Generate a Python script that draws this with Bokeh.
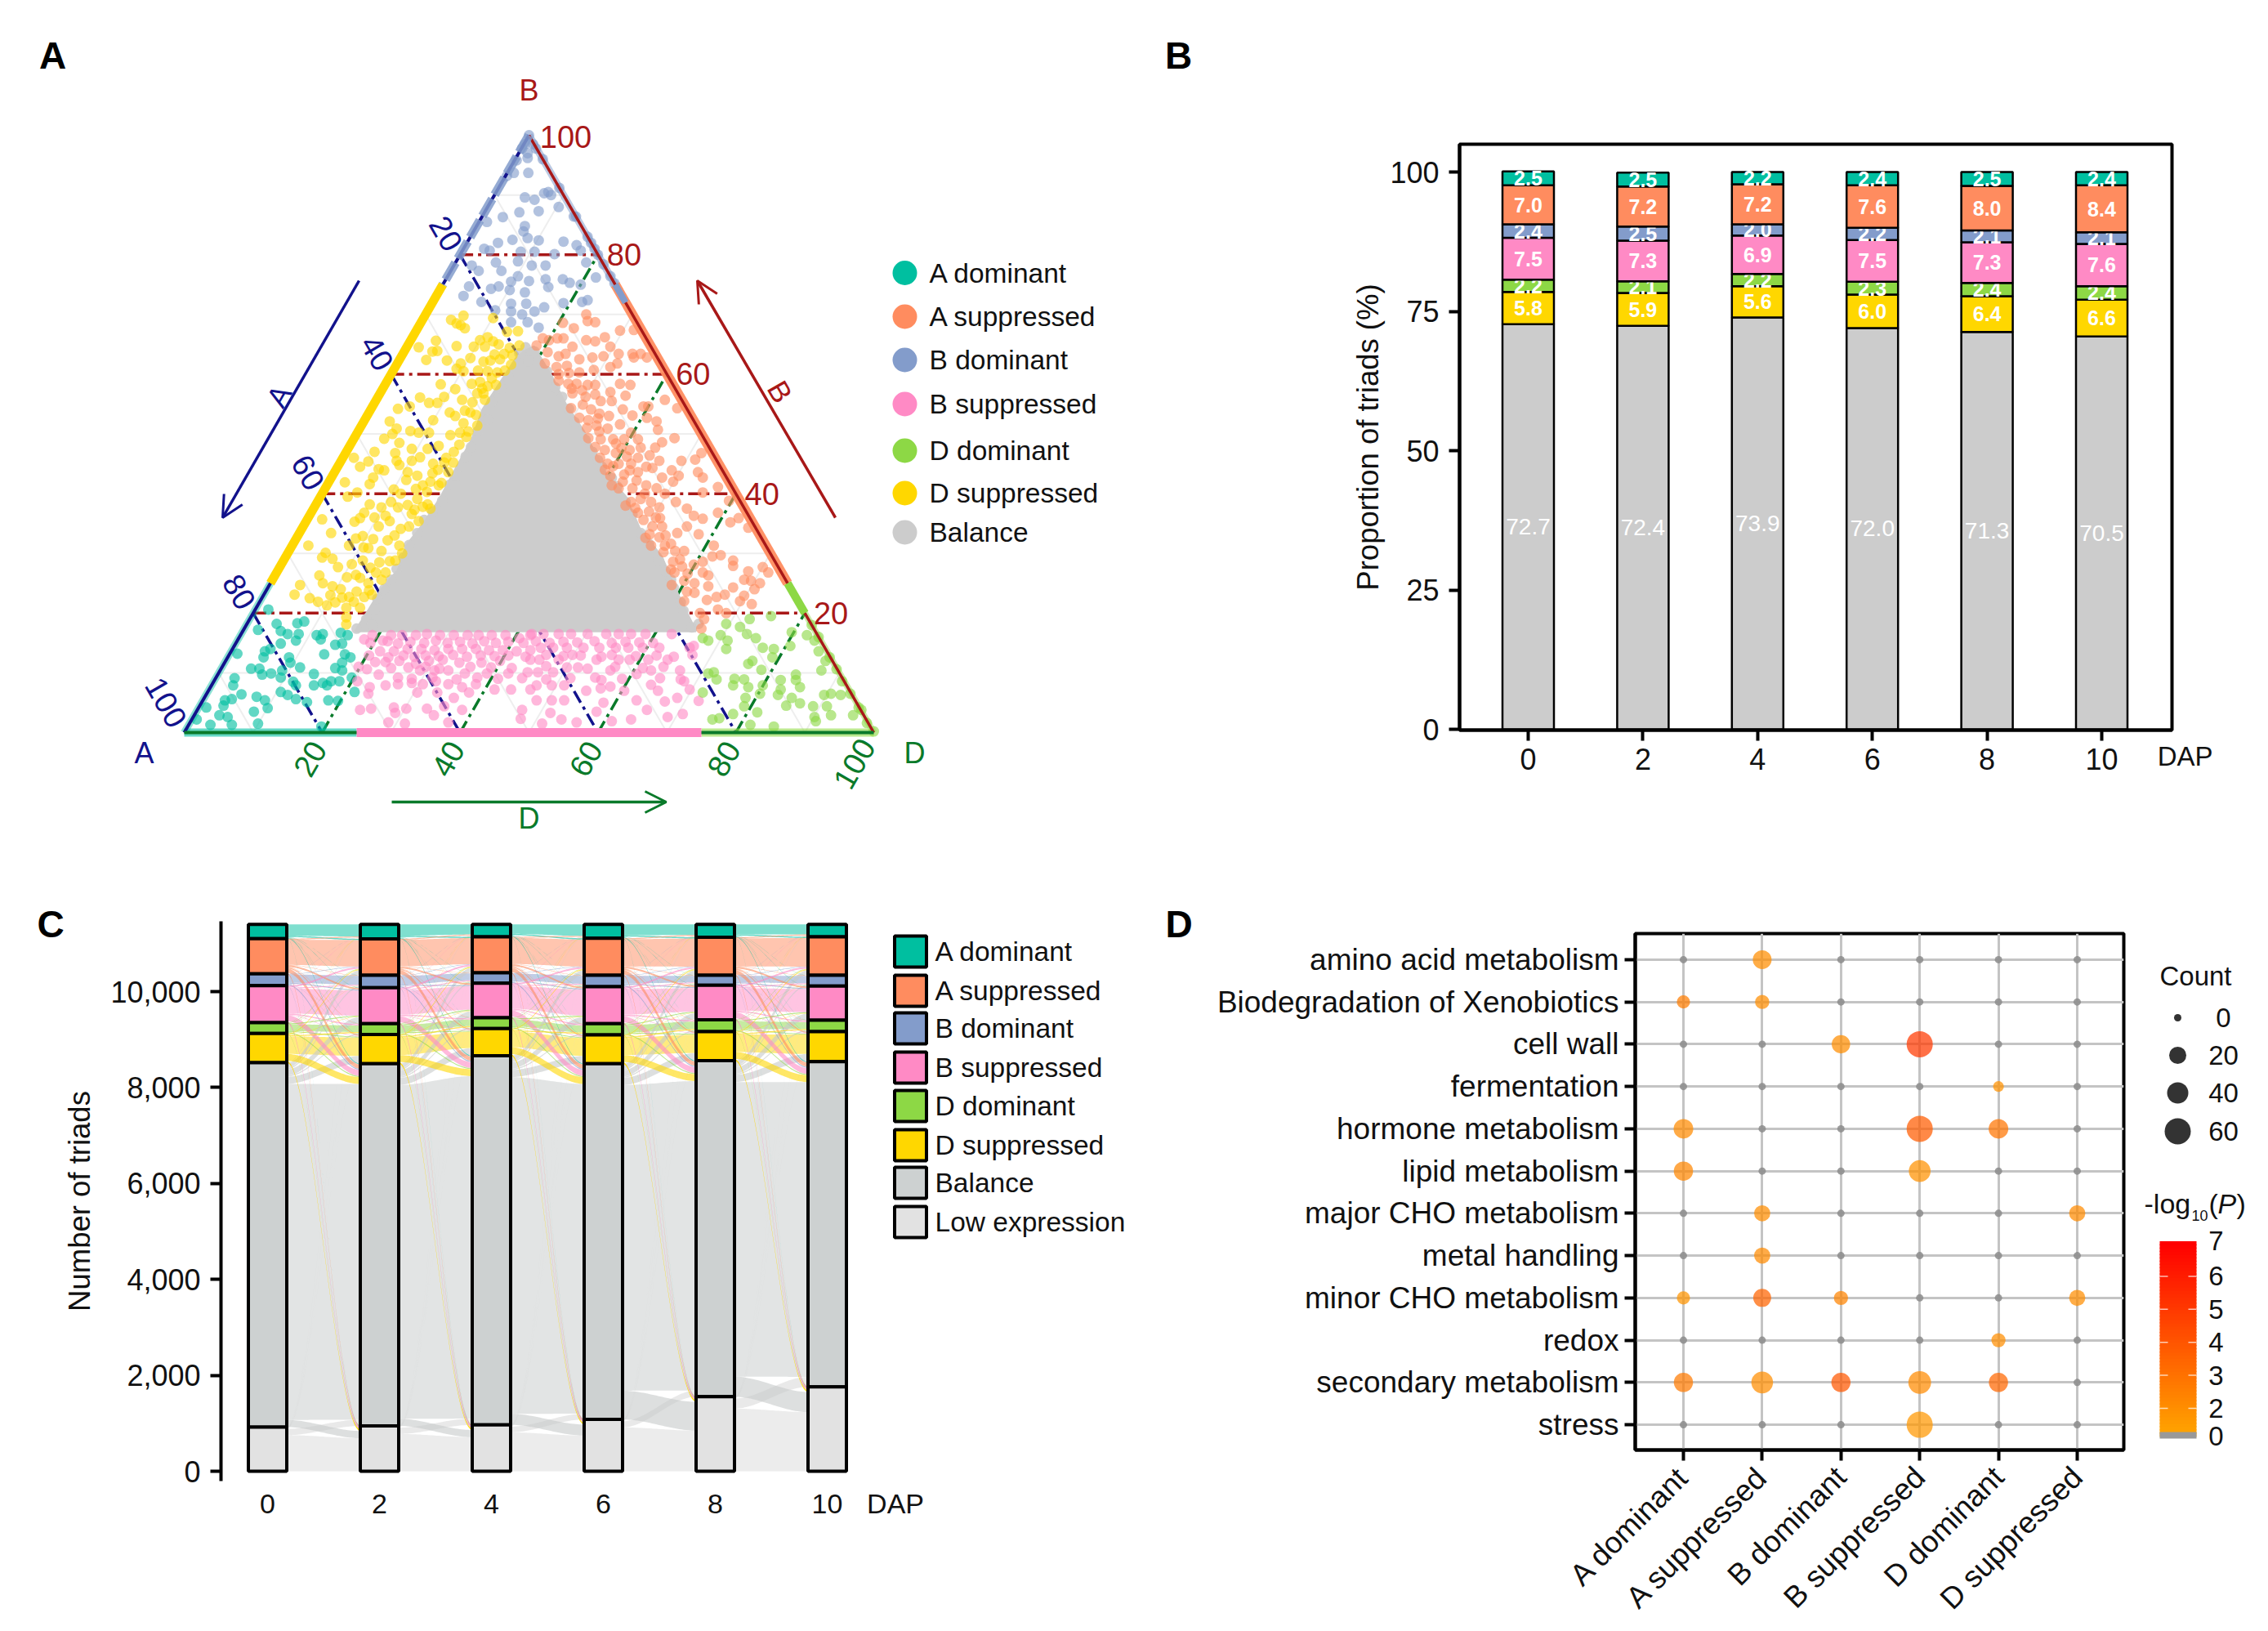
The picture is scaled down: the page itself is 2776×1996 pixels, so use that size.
import numpy as np
from bokeh.plotting import figure
from bokeh.layouts import column, row
from bokeh.models import Range1d, FixedTicker, Label, Arrow, OpenHead, Title
from bokeh.core.properties import value
from bokeh.embed import file_html
from bokeh.resources import INLINE

FONT = "Liberation Sans"
C_AD, C_AS, C_BD, C_BS, C_DD, C_DS = "#00BFA0", "#FF8C5F", "#839CCB", "#FF8AC5", "#8DD845", "#FFD700"
C_BAL = "#CCCCCC"
NAVY, DRED, DGREEN = "#12128C", "#A81818", "#0A7A2A"

# ---------- panel A: (position along base %, B %) ----------
b_dominant = [(49.8,96.2),(49.9,93.7),(47.8,93.7),(46.8,93.2),(52.8,90.5),(52.2,90.3),(53.2,90.0),(49.4,89.6),(50.8,89.2),(51.4,87.3),(48.6,87.1),(54.3,88.0),(46.2,86.3),(43.9,85.5),(56.5,86.4),(49.4,84.8),(49.2,83.9),(49.8,82.8),(47.6,82.5),(45.5,82.0),(51.4,82.4),(55.0,82.2),(43.5,81.0),(44.3,80.7),(48.8,80.5),(50.8,80.5),(53.7,80.1),(56.9,81.6),(57.5,80.7),(58.3,78.7),(45.2,78.7),(46.0,77.3),(41.7,78.2),(42.7,77.3),(48.4,78.9),(50.4,78.2),(52.4,78.2),(48.4,76.4),(47.4,75.5),(50.0,75.6),(52.4,75.9),(52.8,74.6),(54.9,75.9),(55.9,75.3),(57.5,75.0),(59.7,76.2),(41.3,74.7),(40.5,73.1),(44.5,74.3),(45.6,74.7),(47.2,74.1),(49.4,73.7),(43.1,72.1),(58.5,72.4),(57.7,72.1),(55.0,71.9),(47.4,71.8),(49.6,71.8),(52.2,71.2),(47.4,70.5),(45.1,70.7),(49.0,70.0),(50.8,70.5),(49.8,68.7),(51.4,67.8),(47.4,68.7),(50.0,100),(49.4,98.5),(50.6,98.5),(49.0,97.8),(51.0,97.8),(49.8,97.0),(48.2,95.8),(52.0,96.0),(54.4,91.2),(56.8,86.4),(59.0,82.0),(60.0,80.0),(60.8,78.4),(61.8,76.4),(62.4,75.2),(58.5,83.0),(59.5,81.0)]
d_suppressed = [(38.7,69.1),(39.5,68.5),(40.5,69.8),(40.1,68.2),(40.7,67.7),(44.8,69.4),(46.8,67.1),(48.4,67.2),(48.6,64.8),(42.9,65.7),(44.0,66.2),(44.8,65.5),(45.6,65.0),(43.6,64.6),(47.2,64.4),(47.6,63.2),(36.5,65.6),(34.0,64.5),(39.5,64.7),(36.0,63.8),(36.7,63.9),(35.1,62.4),(38.1,62.3),(41.5,62.7),(40.1,61.8),(43.4,62.1),(44.4,62.3),(45.8,62.5),(47.4,61.6),(39.5,60.9),(40.5,60.5),(45.4,60.3),(37.2,58.3),(39.3,57.5),(41.7,58.4),(42.9,58.7),(44.0,58.0),(45.2,58.2),(42.5,56.8),(43.6,55.7),(43.4,56.8),(34.2,56.1),(35.5,55.2),(37.7,56.2),(36.7,55.2),(40.3,55.7),(31.0,54.2),(32.7,54.6),(29.8,52.1),(30.8,50.9),(30.2,50.0),(29.0,49.2),(31.2,48.5),(32.8,50.5),(34.0,50.2),(35.5,50.2),(36.1,52.3),(38.5,53.6),(39.3,53.0),(40.5,51.8),(41.5,53.6),(42.3,53.2),(42.5,51.4),(40.9,49.5),(39.9,48.2),(39.1,47.0),(36.9,48.0),(35.3,47.5),(33.0,47.5),(30.6,46.8),(27.6,47.0),(24.6,46.0),(26.7,45.4),(25.5,44.5),(28.2,44.1),(29.0,43.9),(30.8,45.5),(31.2,44.8),(33.0,45.5),(34.2,46.1),(32.4,43.6),(33.8,43.0),(36.1,45.0),(37.7,45.2),(38.3,43.6),(35.7,42.0),(36.9,41.4),(34.6,41.4),(32.2,42.3),(30.4,40.7),(27.4,42.7),(26.9,41.6),(23.3,41.9),(25.1,40.2),(23.7,39.5),(31.4,40.0),(33.8,39.1),(35.3,38.2),(35.7,37.5),(26.9,38.2),(26.1,36.8),(28.6,37.7),(31.0,37.7),(25.5,35.9),(24.7,35.3),(34.0,35.4),(33.4,37.3),(20.0,35.7),(21.3,33.4),(25.9,32.9),(24.9,32.5),(28.2,34.5),(29.8,35.4),(31.4,34.1),(32.6,34.5),(18.0,31.3),(23.9,31.3),(26.7,30.9),(28.6,30.4),(31.2,31.3),(31.6,30.0),(30.6,28.8),(20.5,30.1),(20.0,29.3),(21.5,29.1),(22.3,27.7),(24.3,28.2),(25.9,28.8),(27.8,26.8),(29.2,26.8),(19.6,26.3),(20.1,25.0),(16.8,24.7),(16.0,23.1),(21.5,24.5),(22.7,24.0),(25.5,25.9),(26.7,25.0),(28.6,25.6),(18.2,22.5),(19.4,21.9),(20.7,21.3),(21.9,21.8),(23.9,22.7),(26.1,22.7),(27.2,23.1),(23.5,20.9),(25.5,20.9),(23.5,19.3),(23.5,18.1),
(46.5,60.6),(44.6,59.3),(43.2,57.6),(41.8,55.3),(40.7,53.9),(41.2,50.4),(40.0,50.2),(38.6,49.8),(38.0,46.0),(39.0,45.2),(36.8,44.0),(36.0,43.4),(37.3,41.8),(35.2,40.3),(33.6,40.8),(34.6,37.8),(33.0,36.6),(32.4,38.1),(30.0,38.6),(29.2,36.3),(27.6,36.0),(30.5,33.0),(29.5,32.2),(27.4,32.4),(26.0,31.0),(29.8,28.7),(28.3,28.5),(27.0,27.6),(24.9,26.4),(23.6,26.0),(26.8,23.8),(25.0,23.6),(24.6,21.9),(22.9,22.6),(21.2,23.0),(42.6,60.6),(44.0,60.5),(46.4,63.4),(42.0,64.6),(45.0,63.3)]
a_suppressed = [(58.3,70.0),(58.5,68.9),(59.6,68.7),(54.9,68.6),(56.5,67.7),(63.2,67.3),(65.2,67.4),(52.0,66.0),(52.9,65.7),(54.1,66.0),(55.0,66.0),(58.3,65.7),(59.6,65.5),(61.0,66.2),(51.1,64.8),(52.7,63.7),(54.3,63.0),(55.3,63.4),(56.3,64.6),(61.8,64.6),(63.0,63.4),(65.0,63.4),(66.2,63.4),(57.3,62.5),(59.2,62.8),(60.8,63.0),(62.8,61.8),(61.8,61.2),(65.2,62.8),(55.5,61.4),(54.3,60.0),(57.3,60.3),(59.4,60.7),(67.1,62.8),(55.7,58.4),(56.9,58.4),(58.5,58.2),(59.6,58.2),(63.2,58.4),(64.7,58.2),(54.3,58.9),(56.3,56.8),(57.7,57.3),(61.8,57.0),(64.0,56.4),(60.4,55.5),(62.0,55.5),(63.6,54.1),(56.1,54.3),(59.0,54.1),(60.2,53.4),(57.3,52.7),(65.0,53.1),(66.6,54.6),(67.3,54.6),(69.7,55.7),(71.5,54.3),(68.5,52.1),(68.7,50.7),(67.1,52.7),(58.6,52.3),(59.8,51.4),(61.4,50.9),(63.2,51.6),(64.8,50.2),(58.6,49.3),(60.4,49.1),(62.2,49.1),(63.8,49.1),(65.8,49.1),(71.1,49.3),(69.3,48.6),(68.3,47.7),(61.0,47.3),(62.6,46.8),(64.6,47.3),(66.2,47.7),(67.5,46.4),(68.9,45.5),(72.1,45.5),(74.1,45.7),(75.0,46.8),(61.4,45.0),(63.0,45.0),(64.8,45.0),(67.0,44.5),(67.9,44.3),(74.5,43.6),(75.2,42.7),(70.7,43.9),(71.7,43.0),(61.8,43.0),(63.8,43.2),(65.8,43.6),(69.3,42.7),(70.9,42.0),(63.0,40.9),(65.0,40.9),(67.0,41.4),(68.5,40.9),(69.7,40.0),(75.2,40.2),(77.4,41.1),(79.0,38.8),(72.9,37.5),(64.8,38.6),(66.2,39.1),(67.7,38.6),(68.9,37.7),(71.3,38.6),(73.9,36.3),(75.2,35.8),(77.4,36.8),(80.4,35.9),(79.2,35.2),(81.8,34.3),(65.8,36.8),(67.9,34.5),(69.3,34.5),(67.5,33.2),(68.9,32.7),(71.5,33.4),(72.9,34.5),(74.6,33.2),(67.7,31.3),(69.7,31.3),(72.5,30.4),(76.8,31.3),(76.6,29.5),(75.2,28.6),(77.8,29.7),(79.6,28.8),(79.6,27.9),(83.9,27.7),(84.7,26.8),(69.5,30.2),(70.9,28.6),(73.9,28.1),(75.2,26.8),(76.0,26.3),(81.8,27.0),(81.2,25.6),(82.2,25.4),(83.5,25.0),(82.7,24.0),(79.6,24.3),(78.4,23.1),(71.1,26.8),(70.7,24.7),(72.5,25.4),(74.0,25.0),(76.0,24.5),(72.5,22.0),(75.8,22.2),(77.2,22.7),(81.2,22.9),(80.6,22.0),(82.3,21.5),(77.4,20.6),(78.6,20.0),(74.8,20.0),(75.4,19.0),(75.0,17.4),
(52.3,61.8),(54.0,61.2),(55.8,60.2),(56.2,57.6),(58.2,56.2),(59.6,56.6),(57.8,54.9),(60.0,52.6),(61.6,53.0),(59.6,47.8),(60.3,46.0),(62.2,44.6),(62.6,48.4),(63.4,47.6),(64.6,43.9),(65.6,42.2),(66.8,40.0),(65.4,37.6),(67.4,37.0),(66.6,35.6),(68.4,36.0),(69.0,35.9),(69.8,33.0),(70.6,31.6),(71.2,30.4),(70.6,27.3),(72.2,27.8),(73.0,26.6),(72.9,23.6),(74.0,23.4),(71.9,29.0),(66.9,32.6),(64.0,38.0),(63.6,42.0),(62.0,41.4),(64.2,46.2),(65.8,46.0),(60.2,50.4),(58.4,51.0),(61.0,44.0)]
a_dominant = [(12.2,20.6),(13.4,18.2),(10.7,17.2),(14.0,17.0),(15.0,16.5),(16.4,18.3),(17.4,18.6),(16.6,16.5),(16.2,15.4),(14.0,14.9),(19.2,16.3),(20.1,16.5),(19.8,15.6),(22.7,16.7),(23.7,16.3),(21.9,14.7),(22.9,14.9),(20.3,13.1),(23.3,13.1),(24.1,12.6),(22.9,11.7),(11.7,13.6),(12.5,14.0),(11.5,12.6),(15.2,12.6),(15.4,11.7),(14.2,10.4),(16.8,10.9),(9.7,10.7),(10.9,10.7),(11.3,9.7),(12.6,9.9),(14.0,9.2),(21.9,10.8),(22.9,10.4),(18.8,9.8),(7.3,9.1),(7.1,7.9),(15.8,8.5),(16.2,7.9),(18.8,7.9),(20.1,8.3),(21.3,8.6),(22.5,8.6),(20.7,7.9),(24.3,9.2),(24.7,6.8),(8.3,6.4),(10.5,6.0),(14.0,6.8),(15.0,6.3),(16.2,5.6),(5.9,5.4),(6.9,5.6),(5.7,4.5),(11.7,5.4),(12.1,4.1),(17.8,5.1),(20.9,5.4),(22.3,5.3),(3.2,4.2),(10.1,3.5),(5.1,2.9),(6.3,2.6),(6.9,1.3),(3.8,1.3),(10.7,1.5),(19.9,1.0),(7.7,13.2),(1.8,2.2)]
b_suppressed = [(26.1,15.6),(27.3,16.3),(28.8,15.4),(30.0,16.3),(31.6,16.3),(33.6,16.3),(35.2,16.5),(37.1,16.3),(39.1,16.3),(41.1,16.3),(42.7,16.3),(44.6,16.3),(46.6,16.3),(48.6,15.8),(50.2,16.3),
(28.4,13.6),(30.4,13.6),(32.4,14.0),(34.4,14.0),(36.3,13.8),(38.3,14.0),(40.3,14.0),(42.3,14.0),(44.2,13.8),(46.2,13.8),(48.2,13.6),(50.2,13.8),
(27.7,11.8),(29.2,11.8),(31.2,12.0),(33.6,11.5),(35.5,12.0),(37.5,12.2),(39.9,11.7),(43.1,11.7),(45.8,12.0),(50.2,12.2),
(25.3,11.0),(26.5,10.6),(28.2,9.7),(31.0,9.2),(34.2,10.4),(36.3,10.4),(38.3,10.4),(40.7,9.9),(43.9,9.9),(47.0,9.9),(49.8,10.1),
(25.1,8.6),(29.2,7.9),(31.0,8.1),(33.0,8.3),(26.9,7.6),(26.7,6.5),(34.6,8.1),(36.5,8.6),(38.3,8.1),(40.3,7.6),(42.3,8.1),(45.0,7.2),(47.4,7.2),(50.2,7.2),
(33.8,6.7),(36.7,6.7),(39.1,5.8),(41.3,6.7),(25.5,3.8),(27.1,4.0),(30.4,4.2),(32.2,4.0),(30.6,3.3),(35.2,4.0),(36.2,2.9),(37.7,4.4),(40.3,3.8),(49.0,3.8),(48.8,2.3),(29.6,1.7),(32.0,1.5),(38.3,1.7),
(50.4,16.5),(52.1,16.5),(54.3,16.5),(56.1,16.5),(58.5,16.5),(61.2,16.5),(63.0,16.5),(64.8,16.5),(66.9,16.5),
(51.7,14.2),(53.5,14.2),(55.5,14.2),(57.9,14.2),(60.2,14.2),(62.6,14.2),(64.4,14.2),(66.5,14.2),(68.9,14.2),(70.7,16.5),(73.9,14.5),(73.3,14.2),
(51.5,12.2),(54.3,12.2),(56.3,13.0),(59.8,12.2),(63.0,12.2),(64.6,12.2),(67.3,12.2),(70.1,12.2),(73.7,13.0),
(51.3,10.1),(53.5,10.1),(57.1,10.9),(59.6,9.2),(61.8,10.4),(65.6,9.8),(67.7,10.4),(71.9,10.4),
(51.1,7.9),(53.3,7.9),(55.1,7.9),(58.3,7.0),(60.4,7.4),(61.8,7.7),(63.8,7.0),(67.7,8.0),(68.7,7.0),(72.5,8.6),(73.3,7.2),
(51.1,5.4),(53.3,5.4),(55.1,5.4),(60.8,5.0),(65.6,5.4),(69.7,5.2),(71.5,5.8),(74.6,5.3),
(53.1,3.3),(54.7,2.2),(67.1,3.8),(70.1,2.6),(72.3,3.1),(51.9,1.5),(56.9,1.7),(59.8,3.5),(62.0,1.9),(64.8,2.2),
(27.0,15.0),(29.5,15.3),(31.0,14.9),(32.8,15.2),(34.8,15.0),(36.5,15.4),(38.2,15.0),(40.0,15.2),(41.8,14.9),(43.5,15.3),(45.2,15.0),(47.0,15.2),(49.2,15.0),(51.0,15.3),(53.0,15.0),(55.0,15.2),(57.0,15.1),(59.5,15.3),(62.0,15.0),(64.0,15.2),(66.0,15.1),(68.0,15.0),
(26.8,12.9),(29.6,12.6),(31.8,12.9),(33.4,12.7),(35.0,12.9),(36.9,12.8),(39.0,13.0),(41.0,12.7),(43.0,12.9),(45.0,12.8),(47.0,12.9),(49.5,12.7),(52.5,13.0),(55.0,12.8),(57.5,12.9),(60.5,12.7),(62.0,13.0),(65.5,12.8),(68.5,12.9),(71.0,12.7),
(30.0,10.8),(32.5,10.9),(35.0,11.0),(37.0,10.7),(41.5,11.0),(44.5,10.9),(47.5,10.8),(52.5,11.1),(55.5,10.9),(58.5,10.7),(62.5,11.0),(66.5,10.8),(69.5,11.0),
(33.0,9.0),(36.0,9.2),(39.5,8.9),(42.5,9.2),(45.5,9.0),(49.0,9.1),(52.5,8.9),(56.0,9.1),(60.5,8.8),(63.5,9.0),(69.0,9.1),(72.0,8.9)]
d_dominant = [(78.6,18.2),(80.6,17.7),(82.0,19.0),(85.1,19.5),(75.2,15.8),(76.0,15.4),(77.8,16.3),(78.8,15.4),(78.6,14.0),(81.6,16.5),(82.9,15.8),(83.9,14.2),(85.5,14.0),(88.1,16.8),(87.9,14.5),(90.3,16.3),(91.4,15.4),(92.0,13.6),(85.3,12.6),(82.4,12.0),(81.8,11.5),(93.0,12.0),(83.7,10.5),(92.4,10.4),(76.0,9.9),(76.8,10.1),(77.2,8.9),(79.8,9.0),(81.2,8.9),(79.6,7.9),(81.8,7.6),(75.2,6.7),(83.9,7.9),(86.5,8.8),(88.7,9.7),(88.7,8.8),(89.3,7.6),(86.5,7.2),(86.1,6.3),(83.5,6.5),(92.8,6.3),(93.8,6.5),(95.2,6.3),(95.4,8.6),(88.1,5.8),(89.3,4.9),(81.4,5.8),(81.2,4.4),(87.3,4.5),(91.2,4.4),(93.2,4.4),(83.1,3.4),(93.8,2.9),(91.4,2.6),(91.6,1.9),(97.0,2.9),(98.2,3.8),(96.6,6.5),(76.6,2.2),(77.6,2.4),(79.6,3.1),(82.1,1.3),(85.5,1.0),(100.0,0.2),(99.0,1.6),(97.8,4.2),(94.6,10.6),(93.6,12.6),(92.0,16.0),(91.0,18.0)]
# dense balance cloud: outline of the solid mass, plus loose points along its rim
balance_hull = [(49.6,64.0),(48.2,62.8),(43.3,54.1),(41.7,49.0),(39.3,44.0),(37.0,39.0),(34.6,34.8),(32.2,31.3),(31.0,27.2),(28.6,24.0),(26.7,20.4),(24.8,17.0),(74.2,17.0),(72.9,20.0),(71.6,23.1),(69.2,29.5),(66.1,34.0),(64.0,39.5),(61.2,43.2),(57.9,50.5),(55.3,55.0),(53.3,59.6),(50.7,64.6)]
balance_rim = [(49.5,64.5),(48.6,63.5),(50.8,63.8),(47.0,59.5),(52.6,60.5),(44.6,55.4),(54.8,56.2),(42.6,50.5),(56.6,52.0),(40.8,46.2),(59.2,47.0),(38.5,41.5),(60.6,44.5),(36.0,37.0),(62.8,41.2),(33.8,33.4),(65.0,36.5),(31.8,29.3),(67.4,31.6),(30.0,25.6),(69.8,27.0),(28.0,22.4),(71.0,24.2),(26.4,19.0),(72.4,20.4),(73.6,17.6),(25.0,17.4),(27.2,18.0),(49.9,62.2),(46.0,57.6),(53.8,57.8),(44.0,52.4),(55.8,54.2),(41.6,47.8),(58.2,49.0),(39.6,43.0),(60.0,45.6),(37.4,38.8),(62.0,42.6),(34.8,35.6),(64.0,38.6),(32.6,31.4),(66.2,33.4),(30.8,27.4),(68.8,28.8),(29.0,24.0),(70.6,25.6),(27.6,20.6),(72.0,21.8),(74.6,18.2)]

edge_breaks_B = [100, 75, 25, 0]
edge_breaks_base = [0, 25, 75, 100]
tern_major = [20, 40, 60, 80]
tern_minor = [10, 30, 50, 70, 90]

legend_A = ["A dominant", "A suppressed", "B dominant", "B suppressed", "D dominant", "D suppressed", "Balance"]
legend_A_colors = [C_AD, C_AS, C_BD, C_BS, C_DD, C_DS, C_BAL]

# ---------- panel B ----------
dap = ["0", "2", "4", "6", "8", "10"]
pct_balance = [72.7, 72.4, 73.9, 72.0, 71.3, 70.5]
pct_d_sup = [5.8, 5.9, 5.6, 6.0, 6.4, 6.6]
pct_d_dom = [2.2, 2.1, 2.2, 2.3, 2.4, 2.4]
pct_b_sup = [7.5, 7.3, 6.9, 7.5, 7.3, 7.6]
pct_b_dom = [2.4, 2.5, 2.0, 2.2, 2.1, 2.1]
pct_a_sup = [7.0, 7.2, 7.2, 7.6, 8.0, 8.4]
pct_a_dom = [2.5, 2.5, 2.2, 2.4, 2.5, 2.4]

# ---------- panel C (counts, top to bottom order below) ----------
n_a_dom = [300, 300, 258, 289, 268, 258]
n_a_sup = [730, 760, 751, 771, 792, 802]
n_b_dom = [247, 258, 216, 237, 206, 227]
n_b_sup = [771, 751, 720, 772, 721, 710]
n_d_dom = [226, 226, 227, 236, 246, 236]
n_d_sup = [607, 607, 565, 597, 607, 628]
n_balance = [7600, 7553, 7696, 7418, 7007, 6780]
n_low = [920, 945, 967, 1080, 1553, 1759]
# transitions between neighbouring time points (source rows, target columns)
transitions = [
    [0, 25, 3, 5, 2, 5, 18, 5],
    [20, 0, 8, 35, 8, 25, 90, 20],
    [3, 10, 0, 20, 3, 5, 25, 8],
    [5, 35, 20, 0, 25, 10, 125, 30],
    [3, 8, 3, 20, 0, 18, 22, 8],
    [5, 20, 4, 8, 25, 0, 145, 35],
    [10, 100, 30, 130, 25, 150, 0, 35],
    [3, 8, 3, 10, 3, 10, 120, 0],
]
balance_to_low = [150, 150, 230, 600, 420]
low_to_balance = [130, 130, 120, 130, 210]
legend_C = ["A dominant", "A suppressed", "B dominant", "B suppressed", "D dominant", "D suppressed", "Balance", "Low expression"]
fill_C = [C_AD, C_AS, C_BD, C_BS, C_DD, C_DS, "#CDD1D1", "#E2E2E2"]
flow_C = [C_AD, C_AS, C_BD, C_BS, C_DD, C_DS, "#C6CACA", "#DADADA"]

# ---------- panel D ----------
pathways = ["amino acid metabolism", "Biodegradation of Xenobiotics", "cell wall", "fermentation", "hormone metabolism", "lipid metabolism", "major CHO metabolism", "metal handling", "minor CHO metabolism", "redox", "secondary metabolism", "stress"]
classes = ["A dominant", "A suppressed", "B dominant", "B suppressed", "D dominant", "D suppressed"]
count = [[0, 28, 0, 0, 0, 0], [12, 14, 0, 0, 0, 0], [0, 0, 26, 62, 0, 0], [0, 0, 0, 0, 7, 0], [32, 0, 0, 62, 32, 0], [30, 0, 0, 42, 0, 0], [0, 18, 0, 0, 0, 18], [0, 18, 0, 0, 0, 0], [12, 24, 14, 0, 0, 18], [0, 0, 0, 0, 14, 0], [30, 42, 30, 46, 30, 0], [0, 0, 0, 62, 0, 0]]
log_p = [[0, 2.0, 0, 0, 0, 0], [2.6, 2.0, 0, 0, 0, 0], [0, 0, 2.0, 5.0, 0, 0], [0, 0, 0, 0, 1.9, 0], [2.1, 0, 0, 3.8, 2.9, 0], [2.3, 0, 0, 1.9, 0, 0], [0, 2.0, 0, 0, 0, 2.1], [0, 2.1, 0, 0, 0, 0], [1.8, 3.5, 2.4, 0, 0, 2.0], [0, 0, 0, 0, 2.0, 0], [2.7, 2.0, 3.9, 2.1, 3.4, 0], [0, 0, 0, 1.7, 0, 0]]
count_legend = [0, 20, 40, 60]
count_diam = [9, 21, 26, 32]
p_ticks = [7, 6, 5, 4, 3, 2]

SPLIT = 1470  # page x where the upper-left figure stops
SPLIT_LOW = 1400  # page x where the lower-left figure stops
H_BOTTOM = 944  # height of the lower row


def mapper(px0, px1, d0, d1):
    return lambda px: d0 + (np.asarray(px, dtype=float) - px0) * (d1 - d0) / (px1 - px0)


def clean(p):
    p.grid.visible = False
    p.background_fill_color = "white"
    p.border_fill_color = "white"
    p.frame_align = False


def panel_label(p, X, Y, txt, px, py):
    p.add_layout(Label(x=float(X(px)), y=float(Y(py)), text=txt, text_font=FONT, text_font_size="46px", text_font_style="bold",
                       text_color="black", text_align="center", text_baseline="middle"))


def style_axis(ax, size="36px"):
    ax.major_label_text_font = FONT
    ax.major_label_text_font_size = size
    ax.major_label_text_color = "#111111"
    ax.axis_label_text_font = FONT
    ax.axis_label_text_font_style = "normal"
    ax.axis_label_text_font_size = "36.5px"
    ax.axis_label_text_color = "#111111"
    ax.minor_tick_line_color = None
    ax.axis_line_color = "black"
    ax.axis_line_width = 4
    ax.major_tick_line_color = "black"
    ax.major_tick_line_width = 4
    ax.major_tick_in = 0
    ax.major_tick_out = 13


# ================= A =================
UNIT = 8.44
XA = lambda px: (np.asarray(px, dtype=float) - 225) / UNIT
YA = lambda py: (896 - np.asarray(py, dtype=float)) / UNIT
H = np.sqrt(3) / 2
pA = figure(width=SPLIT, height=1050, x_range=Range1d(float(XA(0)), float(XA(SPLIT))), y_range=Range1d(float(YA(1050)), float(YA(0))),
            x_axis_location=None, y_axis_location=None, toolbar_location=None, output_backend="svg", min_border=0, outline_line_color=None)
clean(pA)


def tern_lines(levels, color, width, dash, alpha=1.0):
    for k in levels:
        # B = k: across the triangle
        pA.line([k / 2, 100 - k / 2], [k * H, k * H], line_color=DRED if color is None else color, line_width=width, line_dash=dash, line_alpha=alpha)
    for k in levels:
        # A = k: from left edge (D=0, B=100-k) to base (D=100-k, B=0)
        pA.line([(100 - k) / 2, 100 - k], [(100 - k) * H, 0], line_color=NAVY if color is None else color, line_width=width, line_dash=dash, line_alpha=alpha)
    for k in levels:
        # D = k: from base (D=k, B=0) to right edge (D=k, B=100-k)
        pA.line([k, k + (100 - k) / 2], [0, (100 - k) * H], line_color=DGREEN if color is None else color, line_width=width, line_dash=dash, line_alpha=alpha)


tern_lines(tern_minor, "#EEEEEE", 2, "solid")
tern_lines(tern_major, None, 3.5, "16 6 4 6")

hx, hy = zip(*balance_hull)
pA.patch(list(hx), [v * H for v in hy], fill_color=C_BAL, line_color=C_BAL, line_width=3)
rx, ry = zip(*balance_rim)
pA.scatter(list(rx), [v * H for v in ry], size=13, color=C_BAL, alpha=0.9, line_color=None)

for pts, col in [(b_dominant, C_BD), (d_suppressed, C_DS), (a_suppressed, C_AS), (a_dominant, C_AD), (b_suppressed, C_BS), (d_dominant, C_DD)]:
    xs, bs = zip(*pts)
    pA.scatter(list(xs), [v * H for v in bs], size=13, color=col, alpha=0.62, line_color=None)

bk = edge_breaks_B
def left(b): return b / 2, b * H
def right(b): return 100 - b / 2, b * H
def seg(f, b0, b1, **kw):
    a, c = f(b0), f(b1)
    pA.line([a[0], c[0]], [a[1], c[1]], **kw)

seg(right, bk[1], bk[2], line_color=C_AS, line_width=12, line_alpha=0.95)
seg(right, bk[0], bk[1], line_color=C_BD, line_width=9, line_alpha=0.55)
seg(right, bk[2], bk[3], line_color=C_DD, line_width=8, line_alpha=0.45)
seg(left, bk[2], bk[3], line_color=C_AD, line_width=9, line_alpha=0.45)
be = edge_breaks_base
pA.line([be[0], be[1]], [0, 0], line_color=C_AD, line_width=10, line_alpha=0.6)
pA.line([be[2], be[3]], [0, 0], line_color=C_DD, line_width=10, line_alpha=0.6)
seg(left, 100, 0, line_color=NAVY, line_width=4)
seg(right, 100, 0, line_color=DRED, line_width=3.5)
pA.line([0, 100], [0, 0], line_color=DGREEN, line_width=4)
seg(left, bk[0], bk[1], line_color=C_BD, line_width=11, line_alpha=0.85, line_dash="24 6")
seg(left, bk[1], bk[2], line_color=C_DS, line_width=11)
seg(right, bk[1], 72, line_color=C_BD, line_width=8)
seg(right, bk[2], 20, line_color=C_DD, line_width=10)
pA.line([be[1], be[2]], [0, 0], line_color=C_BS, line_width=11)


def txtA(x, y, t, color, angle=0.0, size="38px", align="center"):
    pA.text(x, y, text=t, text_color=color, angle=angle, text_font=value(FONT), text_font_size=size, text_align=align, text_baseline="middle")


off = 1 / UNIT
# navy labels: A axis
txtA([(100 - k) / 2 - 17 * off for k in tern_major] + [-22 * off], [(100 - k) * H + 26 * off for k in tern_major] + [37 * off],
     [str(k) for k in tern_major] + ["100"], NAVY, angle=-np.pi / 3)
# red labels: B axis
txtA([100 - k / 2 + 32 * off for k in tern_major] + [50 + 45 * off], [k * H for k in tern_major] + [100 * H - 2 * off],
     [str(k) for k in tern_major] + ["100"], DRED)
# green labels: D axis
txtA([k - 15 * off for k in tern_major] + [100 - 24 * off], [-32 * off] * 4 + [-38 * off],
     [str(k) for k in tern_major] + ["100"], DGREEN, angle=np.pi / 3)
txtA([float(XA(176))], [float(YA(921))], ["A"], NAVY, size="36px")
txtA([float(XA(647))], [float(YA(110))], ["B"], DRED, size="36px")
txtA([float(XA(1119))], [float(YA(921))], ["D"], DGREEN, size="36px")
txtA([float(XA(341))], [float(YA(484))], ["A"], NAVY, angle=np.pi / 3, size="36px")
txtA([float(XA(954))], [float(YA(479))], ["B"], DRED, angle=-np.pi / 3, size="36px")
txtA([float(XA(647))], [float(YA(1001))], ["D"], DGREEN, size="36px")
for (x0, y0, x1, y1, c) in [(439, 343, 272, 633, NAVY), (1022, 633, 853, 343, DRED), (479, 981, 815, 981, DGREEN)]:
    pA.add_layout(Arrow(end=OpenHead(size=26, line_color=c, line_width=3), x_start=float(XA(x0)), y_start=float(YA(y0)), x_end=float(XA(x1)), y_end=float(YA(y1)), line_color=c, line_width=3.5))
leg_y = [333.5, 387, 440, 494, 551, 603, 651]
pA.scatter([float(XA(1107))] * 7, [float(YA(v)) for v in leg_y], size=30, color=legend_A_colors, line_color=None)
txtA([float(XA(1137))] * 7, [float(YA(v)) for v in leg_y], legend_A, "#111111", size="33.5px", align="left")
panel_label(pA, XA, YA, "A", 64, 67)
panel_label(pA, XA, YA, "B", 1442, 67)

# ================= B =================
XB = mapper(1870, 2572, 0, 5)
YB = mapper(892, 210, 0, 100)
pB = figure(width=2770 - SPLIT, height=1050, x_range=Range1d(float(XB(1786)), float(XB(2658))), y_range=Range1d(float(YB(893)), float(YB(176))),
            toolbar_location=None, output_backend="svg", min_border_left=1786 - SPLIT, min_border_right=112, min_border_top=176, min_border_bottom=157,
            outline_line_color="black", outline_line_width=4)
clean(pB)
style_axis(pB.xaxis[0])
style_axis(pB.yaxis[0])
pB.xaxis.ticker = FixedTicker(ticks=list(range(6)))
pB.xaxis.major_label_overrides = {i: d for i, d in enumerate(dap)}
pB.xaxis.major_label_standoff = 9
pB.yaxis.major_label_standoff = 12
pB.yaxis.ticker = FixedTicker(ticks=[0, 25, 50, 75, 100])
pB.yaxis.axis_label = "Proportion of triads (%)"
pB.yaxis.axis_label_standoff = 3
xb = np.arange(6)
base = np.zeros(6)
for vals, col in [(pct_balance, C_BAL), (pct_d_sup, C_DS), (pct_d_dom, C_DD), (pct_b_sup, C_BS), (pct_b_dom, C_BD), (pct_a_sup, C_AS), (pct_a_dom, C_AD)]:
    v = np.array(vals)
    pB.vbar(x=xb, bottom=base, top=base + v, width=63 / 140.4, fill_color=col, line_color="black", line_width=2.5)
    big = col == C_BAL
    pB.text(xb, base + v / 2, text=[f"{t:.1f}" for t in vals], text_color="white", text_align="center", text_baseline="middle",
            text_font=value(FONT), text_font_size="28px" if big else "25px", text_font_style="normal" if big else "bold")
    base = base + v
pB.add_layout(Title(text="DAP", align="right", vertical_align="top", offset=-50, standoff=-76, text_font=FONT, text_font_size="33px", text_font_style="normal", text_color="#111111"), "below")

# ================= C =================
XC = mapper(327, 1012, 0, 5)
YC = mapper(1800, 1213, 0, 10000)
pC = figure(width=SPLIT_LOW, height=H_BOTTOM, x_range=Range1d(float(XC(270)), float(XC(SPLIT_LOW))), y_range=Range1d(float(YC(1812)), float(YC(1127))),
            toolbar_location=None, output_backend="svg", min_border_left=270, min_border_right=0, min_border_top=77, min_border_bottom=H_BOTTOM - (1812 - 1050),
            outline_line_color=None)
clean(pC)
style_axis(pC.xaxis[0], "34px")
style_axis(pC.yaxis[0])
pC.xaxis.axis_line_color = None
pC.xaxis.major_tick_line_color = None
pC.xaxis.major_tick_out = 0
dap_pos = 5.61
pC.xaxis.ticker = FixedTicker(ticks=list(range(6)) + [dap_pos])
ov = {i: d for i, d in enumerate(dap)}
ov[dap_pos] = "DAP"
pC.xaxis.major_label_overrides = ov
pC.xaxis.major_label_standoff = 8
pC.yaxis.major_label_standoff = 12
pC.yaxis.ticker = FixedTicker(ticks=[0, 2000, 4000, 6000, 8000, 10000])
pC.yaxis.major_label_overrides = {0: "0", 2000: "2,000", 4000: "4,000", 6000: "6,000", 8000: "8,000", 10000: "10,000"}
pC.yaxis.axis_label = "Number of triads"
pC.yaxis.axis_label_standoff = 14

strata = np.array([n_a_dom, n_a_sup, n_b_dom, n_b_sup, n_d_dom, n_d_sup, n_balance, n_low], dtype=float)
HW = 47 / 137 / 2
t = np.linspace(0, 1, 36)
S = 3 * t ** 2 - 2 * t ** 3
for g in range(5):
    M = np.array(transitions, dtype=float)
    M[6, 7] = balance_to_low[g]
    M[7, 6] = low_to_balance[g]
    src, tgt = strata[:, g], strata[:, g + 1]
    src_tops = src[::-1].cumsum()[::-1]
    tgt_tops = tgt[::-1].cumsum()[::-1]
    src_cur = src_tops.copy()
    tgt_cur = tgt_tops.copy()
    L = M.copy()
    R = M.copy()
    for k in range(8):
        L[k, k] = src[k] - M[k].sum()
        R[k, k] = tgt[k] - M[:, k].sum()
    left_pos = np.zeros((8, 8))
    for i in range(8):
        for j in range(8):
            left_pos[i, j] = src_cur[i]
            src_cur[i] -= L[i, j]
    right_pos = np.zeros((8, 8))
    for j in range(8):
        for i in range(8):
            right_pos[i, j] = tgt_cur[j]
            tgt_cur[j] -= R[i, j]
    x0, x1 = g + HW, g + 1 - HW
    xs = x0 + (x1 - x0) * t
    for i in range(8):
        top = left_pos[i, i] + (right_pos[i, i] - left_pos[i, i]) * S
        bot = (left_pos[i, i] - L[i, i]) + ((right_pos[i, i] - R[i, i]) - (left_pos[i, i] - L[i, i])) * S
        pC.patch(np.r_[xs, xs[::-1]], np.r_[top, bot[::-1]], fill_color=flow_C[i], fill_alpha=0.5, line_color=None)
    for i in [7, 6, 0, 1, 2, 3, 4, 5]:
        for j in range(8):
            if i == j or M[i, j] <= 0:
                continue
            top = left_pos[i, j] + (right_pos[i, j] - left_pos[i, j]) * S
            bot = (left_pos[i, j] - L[i, j]) + ((right_pos[i, j] - R[i, j]) - (left_pos[i, j] - L[i, j])) * S
            strong = j == 7 and i < 6
            pC.patch(np.r_[xs, xs[::-1]], np.r_[top, bot[::-1]], fill_color=flow_C[i], fill_alpha=0.9 if strong else 0.6, line_color=None)
for g in range(6):
    tops = strata[::-1, g].cumsum()[::-1]
    bottoms = tops - strata[:, g]
    pC.vbar(x=[g] * 8, top=tops, bottom=bottoms, width=47 / 137, fill_color=fill_C, line_color="black", line_width=4)
leg_c_y = [1164, 1212, 1258, 1306, 1353, 1401, 1447, 1495]
pC.rect([float(XC(1114))] * 8, [float(YC(v)) for v in leg_c_y], width=39, height=38, width_units="screen", height_units="screen",
        fill_color=fill_C, line_color="black", line_width=4)
pC.text([float(XC(1144))] * 8, [float(YC(v)) for v in leg_c_y], text=legend_C, text_color="#111111", text_font=value(FONT), text_font_size="33.5px", text_align="left", text_baseline="middle")
pC.add_layout(Title(text="C", align="left", offset=-225, standoff=-58, text_font=FONT, text_font_size="46px", text_font_style="bold", text_color="black"), "above")

# ================= D =================
XD = mapper(2060, 2542, 0, 5)
YD = mapper(1174, 1745, 0, 11)
pD = figure(width=2606 - SPLIT_LOW, height=H_BOTTOM, x_range=Range1d(float(XD(2001)), float(XD(2599))), y_range=Range1d(float(YD(1776)), float(YD(1142))),
            toolbar_location=None, output_backend="svg", min_border_left=2001 - SPLIT_LOW, min_border_right=7, min_border_top=92, min_border_bottom=H_BOTTOM - (1776 - 1050),
            outline_line_color="black", outline_line_width=4)
clean(pD)
pD.grid.visible = True
pD.grid.grid_line_color = "#C4C4C4"
pD.grid.grid_line_width = 3
style_axis(pD.xaxis[0], "37px")
style_axis(pD.yaxis[0], "37px")
pD.xaxis.ticker = FixedTicker(ticks=list(range(6)))
pD.yaxis.ticker = FixedTicker(ticks=list(range(12)))
pD.xgrid.ticker = FixedTicker(ticks=list(range(6)))
pD.ygrid.ticker = FixedTicker(ticks=list(range(12)))
pD.xaxis.major_label_overrides = {i: c for i, c in enumerate(classes)}
pD.yaxis.major_label_overrides = {i: c for i, c in enumerate(pathways)}
pD.xaxis.major_label_orientation = np.pi / 4
pD.xaxis.major_label_standoff = 14
pD.yaxis.major_label_standoff = 7


def ramp(v):
    f = (np.clip(v, 1.2, 7) - 1.2) / 5.8
    return "#%02X%02X00" % (255, int(round(165 * (1 - f))))


cx, cy, cs, cc, ca = [], [], [], [], []
for r in range(12):
    for c in range(6):
        cx.append(c)
        cy.append(r)
        cs.append(float(np.interp(count[r][c], count_legend, count_diam)))
        zero = count[r][c] == 0
        cc.append("#8C8C8C" if zero else ramp(log_p[r][c]))
        ca.append(0.85 if zero else 0.72)
pD.scatter(cx, cy, size=cs, color=cc, alpha=ca, line_color=None)
pD.add_layout(Title(text="D", align="left", offset=-575, standoff=-28, text_font=FONT, text_font_size="46px", text_font_style="bold", text_color="black"), "above")

# legend panel of D (keys placed on page-pixel axes)
pL = figure(width=164, height=H_BOTTOM, x_range=Range1d(2606, 2770), y_range=Range1d(1050 + H_BOTTOM, 1050), x_axis_location=None, y_axis_location=None,
            toolbar_location=None, output_backend="svg", min_border=0, outline_line_color=None)
clean(pL)


def txtL(x, y, t, size="33px", style="normal", align="center"):
    pL.text([x], [y], text=[t], text_color="#111111", text_font=value(FONT), text_font_size=size, text_font_style=style, text_align=align, text_baseline="middle")


txtL(2687, 1194, "Count", "33px")
for yy, n, d in zip([1245, 1291, 1337, 1384], count_legend, count_diam):
    pL.scatter([2665], [yy], size=d, color="#333333", line_color=None)
    txtL(2721, yy, str(n))
txtL(2624, 1472, "-log", "34px", align="left")
txtL(2682, 1487, "10", "18px", align="left")
txtL(2703, 1472, "(", "34px", align="left")
txtL(2714, 1472, "P", "34px", "italic", align="left")
txtL(2737, 1472, ")", "34px", align="left")
levels = np.linspace(1.2, 7, 60)
pL.rect([2665.5] * 60, 1723 + (2 - levels) * 40.4, width=45, height=5.2, fill_color=[ramp(v) for v in levels], line_color=None)
pL.rect([2665.5], [1756], width=45, height=8, fill_color="#999999", line_color=None)
for v in p_ticks:
    yy = 1723 + (2 - v) * 40.4
    if v < 7:
        pL.segment([2643, 2678], [yy, yy], [2653, 2688], [yy, yy], line_color="white", line_width=1.5, line_alpha=0.7)
    txtL(2712, yy - (3 if v == 7 else 0), str(v))
txtL(2712, 1757, "0")

page = column(row(pA, pB), row(pC, pD, pL))
open("out.html", "w").write(file_html(page, INLINE))
